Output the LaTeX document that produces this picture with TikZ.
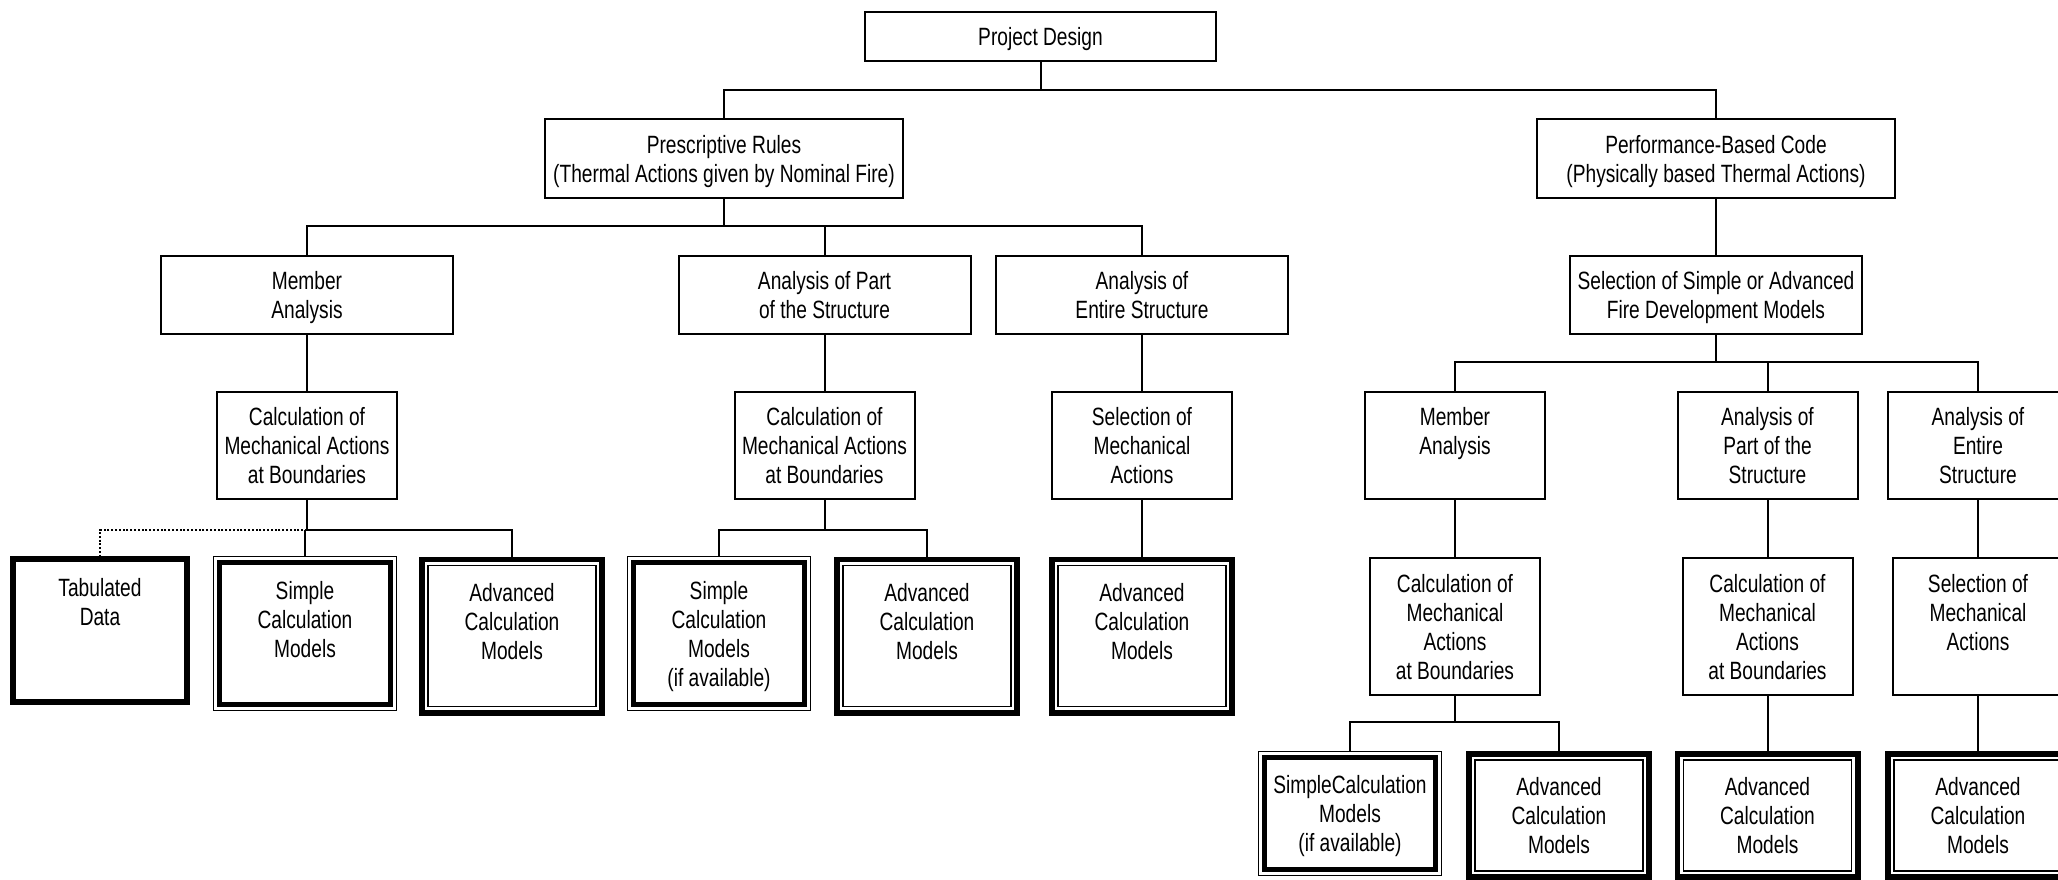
\documentclass[tikz,border=0pt]{standalone}
\usepackage{fontspec}
\setmainfont{Liberation Sans}[FakeStretch=0.766]
\newcommand\diagfont{\fontsize{12.5pt}{14.5pt}\selectfont}
\newcommand\ts{\rule{0pt}{11.8pt}}
\newcommand\botstrut{\rule[-2.7pt]{0pt}{2.7pt}}
\begin{document}
\begin{tikzpicture}[x=0.5pt,y=-0.5pt,
  box/.style={draw, line width=1pt, rectangle, inner sep=0pt, align=center, font=\diagfont,
    execute at end node=\botstrut},
  conn/.style={line width=1pt},
  dotline/.style={dash pattern=on 1pt off 0.9pt},
  topbox/.style={box, minimum width=179pt, minimum height=39.5pt},
  rowtwo/.style={box, minimum width=146pt, minimum height=39pt},
  rowthree/.style={box, minimum width=90pt, minimum height=53.5pt},
  rowfour/.style={box, minimum width=85pt, minimum height=68.5pt},
  tabbox/.style={box, line width=2.8pt},
  simpbox/.style={box, line width=0.75pt,
    path picture={\draw[line width=2.3pt] ([xshift=2.9pt,yshift=2.9pt]path picture bounding box.south west) rectangle ([xshift=-2.9pt,yshift=-2.9pt]path picture bounding box.north east);}},
  advbox/.style={box, line width=2.8pt,
    path picture={\draw[line width=0.75pt] ([xshift=3pt,yshift=3pt]path picture bounding box.south west) rectangle ([xshift=-3pt,yshift=-3pt]path picture bounding box.north east);}},
  lowleft/.style={minimum width=91.3pt, minimum height=76.8pt},
  lowleftadv/.style={minimum width=90.2pt, minimum height=76.7pt},
  lowright/.style={minimum width=91.3pt, minimum height=61.8pt},
  lowrightadv/.style={minimum width=90.2pt, minimum height=61.7pt}
]
\useasboundingbox (0,0) rectangle (2058,879);

% level 0-1
\node[box, minimum width=175.5pt, minimum height=24.5pt] (pd) at (1040.5,36.5) {\ts Project Design};
\node[topbox] (pr) at (724,158.5) {\ts Prescriptive Rules\\(Thermal Actions given by Nominal Fire)};
\node[topbox] (pb) at (1716,158.5) {\ts Performance-Based Code\\(Physically based Thermal Actions)};

% level 2
\node[rowtwo] (ma1) at (307,295) {\ts Member\\Analysis};
\node[rowtwo] (ap1) at (824.5,295) {\ts Analysis of Part\\of the Structure};
\node[rowtwo] (ae1) at (1142,295) {\ts Analysis of\\Entire Structure};
\node[rowtwo] (sel) at (1716,295) {\ts Selection of Simple or Advanced\\Fire Development Models};

% level 3
\node[rowthree] (cm1) at (307,445.5) {\ts Calculation of\\Mechanical Actions\\at Boundaries};
\node[rowthree] (cm2) at (824.5,445.5) {\ts Calculation of\\Mechanical Actions\\at Boundaries};
\node[rowthree] (sm1) at (1142,445.5) {\ts Selection of\\Mechanical\\Actions};
\node[rowthree] (ma2) at (1455,445.5) {\ts Member\\Analysis\\~};
\node[rowthree] (ap2) at (1767.5,445.5) {\ts Analysis of\\Part of the\\Structure};
\node[rowthree] (ae2) at (1978,445.5) {\ts Analysis of\\Entire\\Structure};

% level 4 left
\node[tabbox, minimum width=87.2pt, minimum height=71.7pt] (td) at (100,630.5) {\ts Tabulated\\Data\\~\\~};
\node[simpbox, lowleft] (sc1) at (305,633.5) {\ts Simple\\Calculation\\Models\\~};
\node[advbox, lowleftadv] (ac1) at (512,636) {\ts Advanced\\Calculation\\Models\\~};
\node[simpbox, lowleft] (sc2) at (719,633.5) {\ts Simple\\Calculation\\Models\\(if available)};
\node[advbox, lowleftadv] (ac2) at (927,636) {\ts Advanced\\Calculation\\Models\\~};
\node[advbox, lowleftadv] (ac3) at (1142,636) {\ts Advanced\\Calculation\\Models\\~};

% level 4 right
\node[rowfour] (cr1) at (1455,626.5) {\ts Calculation of\\Mechanical\\Actions\\at Boundaries};
\node[rowfour] (cr2) at (1767.5,626.5) {\ts Calculation of\\Mechanical\\Actions\\at Boundaries};
\node[rowfour] (sr3) at (1978,626.5) {\ts Selection of\\Mechanical\\Actions\\~};

% level 5 right
\node[simpbox, lowright] (sr) at (1350,813.5) {\ts SimpleCalculation\\Models\\(if available)};
\node[advbox, lowrightadv] (ar1) at (1559,815.5) {\ts Advanced\\Calculation\\Models};
\node[advbox, lowrightadv] (ar2) at (1767.5,815.5) {\ts Advanced\\Calculation\\Models};
\node[advbox, lowrightadv] (ar3) at (1978,815.5) {\ts Advanced\\Calculation\\Models};

% connectors
\coordinate (b0) at (1040.5,90);
\draw[conn] (pd.south) -- (b0);
\draw[conn] (pr.north) |- (b0) -| (pb.north);

\coordinate (b1) at (724,226);
\draw[conn] (pr.south) -- (b1);
\draw[conn] (ma1.north) |- (b1) -| (ae1.north);
\draw[conn] (ap1.north) -- (ap1.north |- b1);

\draw[conn] (pb.south) -- (sel.north);
\draw[conn] (ma1.south) -- (cm1.north);
\draw[conn] (ap1.south) -- (cm2.north);
\draw[conn] (ae1.south) -- (sm1.north);

\coordinate (b2) at (1716,362);
\draw[conn] (sel.south) -- (b2);
\draw[conn] (ma2.north) |- (b2) -| (ae2.north);
\draw[conn] (ap2.north) -- (ap2.north |- b2);

\draw[conn] (ma2.south) -- (cr1.north);
\draw[conn] (ap2.south) -- (cr2.north);
\draw[conn] (ae2.south) -- (sr3.north);

\coordinate (b3) at (307,530);
\draw[conn] (cm1.south) -- (b3);
\draw[conn] (b3) -| (ac1.north);
\draw[conn] (sc1.north) -- (sc1.north |- b3);
\draw[conn, dotline] (b3) -| (td.north);

\coordinate (b4) at (824.5,530);
\draw[conn] (cm2.south) -- (b4);
\draw[conn] (sc2.north) |- (b4) -| (ac2.north);
\draw[conn] (sm1.south) -- (ac3.north);

\coordinate (b5) at (1455,722);
\draw[conn] (cr1.south) -- (b5);
\draw[conn] (sr.north) |- (b5) -| (ar1.north);
\draw[conn] (cr2.south) -- (ar2.north);
\draw[conn] (sr3.south) -- (ar3.north);
\end{tikzpicture}
\end{document}
